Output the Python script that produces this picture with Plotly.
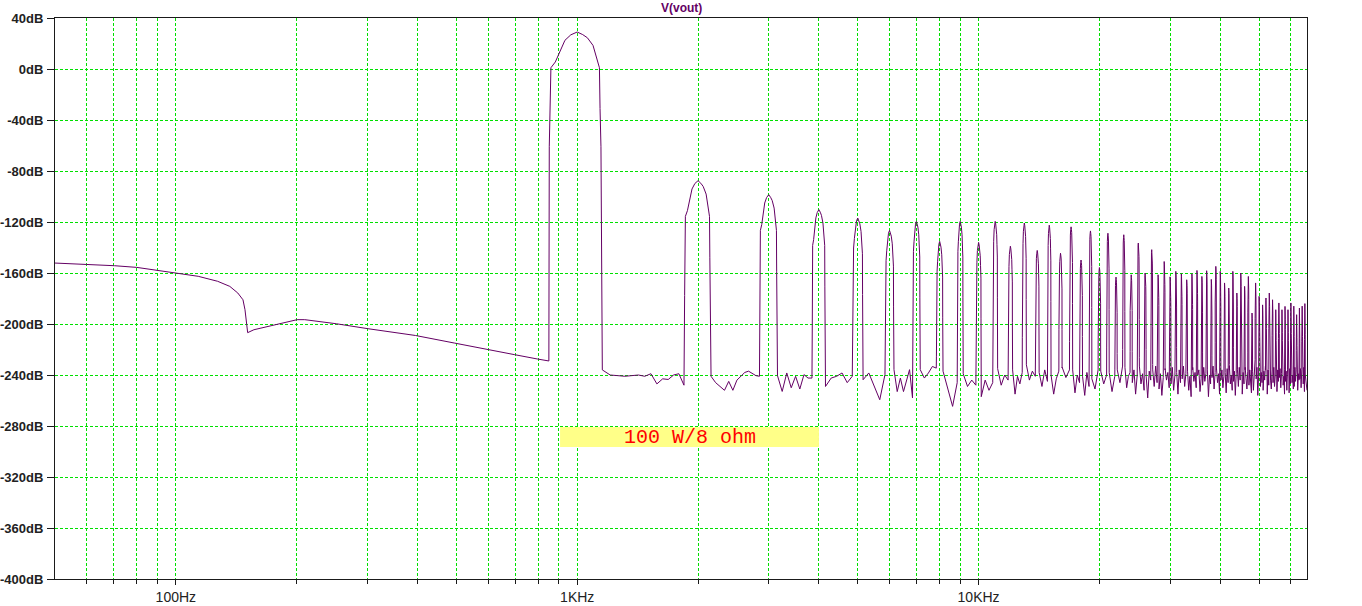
import numpy as np
import plotly.graph_objects as go

# ---------------- data ----------------
# low-frequency part of the spectrum (below the fundamental)
lf_freq = [50.0, 60.0, 70.4, 79.9, 90.4, 100.4, 113.7, 127.1, 136.3, 142.7, 147.0, 148.7,
           150.3, 151.0, 156.5, 179.4, 200.6, 209.5, 251.2, 301.4, 395.3, 495.6, 607.0,
           696.9, 797.3, 850.0]
lf_db = [-152.2, -153.2, -154.3, -155.6, -157.9, -160.0, -162.6, -166.5, -170.5, -175.7,
         -181.0, -188.8, -205.8, -206.8, -204.5, -200.0, -196.6, -196.6, -199.8, -203.7,
         -209.0, -215.0, -220.7, -224.0, -227.5, -229.0]

fundamental_hz = 1000.0
harm_n = list(range(1, 66))
harm_db = [29.0, -87.6, -98.6, -110.3, -116.9, -126.6, -119.5, -135.2, -119.5, -136.0,
           -119.5, -139.0, -120.8, -142.3, -122.5, -144.5, -123.8, -149.8, -127.0, -155.7,
           -128.8, -163.2, -130.0, -161.4, -136.5, -160.0, -141.7, -161.4, -151.0, -163.0,
           -158.7, -160.6, -165.3, -160.6, -158.0, -162.7, -158.2, -165.0, -154.8, -158.7,
           -167.8, -171.8, -158.7, -175.7, -160.0, -170.5, -162.7, -191.4, -167.8, -178.3,
           -185.0, -179.6, -175.7, -181.0, -188.8, -183.5, -188.8, -186.2, -188.8, -183.5,
           -186.0, -192.7, -187.5, -186.0, -184.0]

# shape of one spectral line (offset from harmonic in Hz, level relative to its peak)
peak_off_hz = [-148, -144, -140, -118, -96, -68, -36, 0, 32, 60, 95, 112, 128, 136, 140, 146]
peak_rel_db = [-90, -60, -28, -23.5, -16, -6.5, -2.2, 0, -2, -4.5, -10.5, -18, -24, -28, -60, -90]

# noise floor samples between consecutive harmonics (gap k lies between harmonic k and k+1)
gap_noise_db = [
    [-236, -240, -240.5, -241, -240.5, -240, -241, -239, -247, -243, -243.5, -240, -239, -248],
    [-241, -246, -249, -252, -245, -252, -244, -241, -238, -237, -239, -240.5, -241],
    [-240.5, -252.9, -238.4, -250, -241, -251, -239.7, -242.4, -242.4],
    [-249, -242.4, -241, -238.4, -246, -241],
    [-243.7, -238.4, -249, -259.4, -239.7],
    [-235.8, -253, -242.4, -253, -243.7, -235.8, -258],
    [-235.8, -242.4, -238.4, -233.3, -234.6],
    [-237, -251, -264.6, -246],
    [-239, -249, -244, -248],
    [-257, -244, -252, -246],
    [-235, -248, -240, -244],
    [-236, -255, -241, -247, -238],
    [-232, -244, -237, -241],
    [-238, -249, -236, -245],
    [-240, -255, -243, -237],
    [-234, -242, -236],
    [-236, -254, -240, -246],
    [-241, -256, -238, -249],
    [-243, -251, -239],
    [-237, -247, -240],
    [-238, -253, -241],
    [-236, -246, -233],
    [-234, -250, -241, -238],
    [-246, -236, -255, -240],
    [-233, -247, -239, -252],
    [-241, -258, -237, -244],
    [-236, -249, -233, -246],
    [-251, -239, -256, -242],
    [-235, -244, -238, -250],
    [-247, -234, -252, -240],
    [-238, -255, -236, -246],
    [-243, -233, -249, -239],
    [-237, -252, -241, -257],
    [-234, -245, -238, -250],
    [-240, -236, -253, -243],
    [-248, -234, -245, -239],
    [-236, -257, -240, -247],
    [-242, -233, -251, -238],
    [-235, -246, -239, -255],
    [-244, -236, -250, -241],
    [-238, -254, -235, -246],
    [-233, -247, -240, -252],
    [-245, -237, -256, -239],
    [-236, -249, -234, -244],
    [-241, -255, -238, -247],
    [-234, -243, -251, -237],
    [-248, -236, -245, -254],
    [-237, -252, -240, -235],
    [-243, -234, -256, -241],
    [-236, -249, -238, -246],
    [-252, -237, -244, -233],
    [-240, -255, -236, -248],
    [-235, -244, -251, -238],
    [-246, -234, -249, -240],
    [-238, -253, -236, -245],
    [-242, -235, -250, -239],
    [-234, -248, -241, -255],
    [-245, -237, -252, -236],
    [-239, -254, -235, -247],
    [-236, -246, -240, -251],
    [-249, -234, -245, -238],
    [-237, -252, -239, -244],
    [-243, -235, -250, -240],
    [-238, -247, -234, -253],
    [-240, -252],
]

x_range_hz = [50.0, 65800.0]
y_tick_vals = [40, 0, -40, -80, -120, -160, -200, -240, -280, -320, -360, -400]
y_tick_text = ["40dB", "0dB", "-40dB", "-80dB", "-120dB", "-160dB", "-200dB", "-240dB",
               "-280dB", "-320dB", "-360dB", "-400dB"]
x_tick_vals = [100, 1000, 10000]
x_tick_text = ["100Hz", "1KHz", "10KHz"]
x_minor_vals = [60, 70, 80, 90, 200, 300, 400, 500, 600, 700, 800, 900,
                2000, 3000, 4000, 5000, 6000, 7000, 8000, 9000,
                20000, 30000, 40000, 50000, 60000]

# ---------------- build the trace ----------------
fx = list(lf_freq)
fy = list(lf_db)
for i, (n, lvl) in enumerate(zip(harm_n, harm_db)):
    fc = n * fundamental_hz
    for o, r in zip(peak_off_hz, peak_rel_db):
        v = lvl + r
        if i > 0 or o > 0:
            v = max(v, -236.0)
        fx.append(fc + o)
        fy.append(v)
    noise = gap_noise_db[i]
    f_start = fc + 155
    f_end = (n + 1) * fundamental_hz - 155 if i < len(harm_n) - 1 else x_range_hz[1]
    for f, v in zip(np.linspace(f_start, f_end, len(noise)), noise):
        fx.append(float(f))
        fy.append(v)

trace_color = "#640064"
grid_color = "#00e000"
axis_color = "#1a1a1a"

fig = go.Figure()
fig.add_trace(go.Scatter(x=fx, y=fy, mode="lines",
                         line=dict(color=trace_color, width=1),
                         showlegend=False, hoverinfo="skip"))

fig.update_layout(
    width=1362, height=606,
    margin=dict(l=55, r=55, t=18, b=27, autoexpand=False),
    paper_bgcolor="#ffffff",
    plot_bgcolor="#ffffff",
    showlegend=False,
)

fig.update_xaxes(
    type="log", automargin=False,
    range=[np.log10(x_range_hz[0]), np.log10(x_range_hz[1])],
    tickmode="array", tickvals=x_tick_vals, ticktext=x_tick_text,
    ticks="outside", ticklen=5, tickcolor=axis_color, tickwidth=1,
    tickfont=dict(family="Liberation Sans, Arial", size=14, color="#222222"),
    showgrid=True, gridcolor=grid_color, gridwidth=1, griddash="3px,2px",
    minor=dict(tickmode="array", tickvals=x_minor_vals, ticks="outside", ticklen=4,
               tickcolor=axis_color, showgrid=True, gridcolor=grid_color,
               gridwidth=1, griddash="3px,2px"),
    showline=True, linecolor=axis_color, linewidth=1, mirror=True,
    zeroline=False,
)

fig.update_yaxes(
    range=[-400, 40], automargin=False,
    tickmode="array", tickvals=y_tick_vals, ticktext=y_tick_text,
    ticks="outside", ticklen=7, tickcolor=axis_color, tickwidth=1,
    tickfont=dict(family="Liberation Sans, Arial", size=13, color="#222222", weight="bold"),
    showgrid=True, gridcolor=grid_color, gridwidth=1, griddash="3px,2px",
    showline=True, linecolor=axis_color, linewidth=1, mirror=True,
    zeroline=False, ticklabelstandoff=1,
)

# title
fig.add_annotation(text="V(vout)", xref="paper", yref="paper", x=0.5, y=1,
                   yanchor="middle", yshift=10, showarrow=False,
                   font=dict(family="Liberation Sans, Arial", size=12,
                             color=trace_color, weight="bold"))

# yellow label box
fig.add_shape(type="rect", xref="paper", yref="paper",
              x0=0.4034, x1=0.6102, y0=0.2353, y1=0.2709,
              fillcolor="#ffff88", line=dict(width=0), layer="above")
fig.add_annotation(text="100 W/8 ohm", xref="paper", yref="paper", x=0.5068, y=0.2531,
                   showarrow=False, xanchor="center", yanchor="middle",
                   font=dict(family="Liberation Mono, Courier New", size=20, color="#ff0000"))

fig.write_html("out.html", config={"displayModeBar": False},
               post_script="document.body.style.margin='0';document.body.style.overflow='hidden';")
